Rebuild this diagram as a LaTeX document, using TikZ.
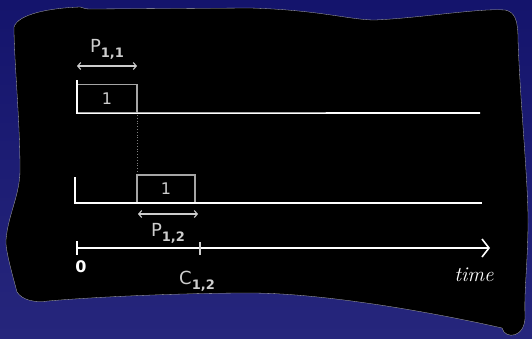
\documentclass[tikz,border=0pt]{standalone}
\usetikzlibrary{arrows.meta}
\usepackage{fontspec}
\setsansfont{DejaVu Sans}
\definecolor{bgtop}{RGB}{20,20,108}
\definecolor{bgbot}{RGB}{38,38,124}
\definecolor{boxgray}{RGB}{165,165,165}
\definecolor{labgray}{RGB}{205,205,205}
\newcommand{\mysub}[1]{\raisebox{-5pt}{\fontsize{13}{13}\selectfont\bfseries #1}}
\begin{document}
\begin{tikzpicture}[x=1pt,y=-1pt,
  whiteline/.style={draw=white,line width=1.6pt},
  jobbox/.style={draw=boxgray,line width=1.2pt,minimum width=#1,minimum height=28pt,inner sep=0pt,text=labgray,font=\sffamily\fontsize{16}{16}\selectfont},
  lab/.style={text=labgray,font=\sffamily\fontsize{18}{18}\selectfont,inner sep=0pt},
  span/.style={draw=labgray,line width=1.1pt,{Straight Barb[length=3pt,width=7pt]}-{Straight Barb[length=3pt,width=7pt]}}]
\shade[top color=bgtop,bottom color=bgbot] (0,0) rectangle (532,338);
\useasboundingbox (0,0) rectangle (532,338);
% black board
\fill[black,draw=gray!60,line width=0.3pt]
  (14,27) .. controls (18,14) and (50,8) .. (80,7)
  .. controls (84,8) and (85,9) .. (90,9)
  -- (250,8) .. controls (320,10) and (350,20) .. (375,20)
  .. controls (420,18) and (480,8) .. (505,10)
  .. controls (515,12) and (518,20) .. (518,40)
  .. controls (520,100) and (528,180) .. (528,220)
  .. controls (528,260) and (524,290) .. (525,315)
  .. controls (526,338) and (505,340) .. (502,328)
  .. controls (450,316) and (330,293) .. (250,293)
  .. controls (170,293) and (80,298) .. (48,301)
  .. controls (35,303) and (22,300) .. (17,292)
  .. controls (14,280) and (5,250) .. (6,240)
  .. controls (8,215) and (20,195) .. (20,170)
  .. controls (20,120) and (14,60) .. (14,27) -- cycle;
% row 1
\node[jobbox=60pt] (b1) at (107,98.5) {1};
\coordinate (r1t) at (77,80);
\coordinate (r1s) at (77,113);
\coordinate (r1e) at (480,113);
\draw[whiteline] (r1t) -- (r1s);
\draw[whiteline] (b1.south east) -- (r1e);
\draw[white,line width=1pt] (b1.south west) -- (b1.south east);
% P11
\coordinate (p11a) at (77,66);
\coordinate (p11b) at (137,66);
\draw[span] (p11a) -- (p11b);
\node[lab] (p11) at (107,49) {P\mysub{1,1}};
% dotted
\coordinate (d1) at (137,115);
\coordinate (d2) at (137,174);
\draw[gray,line width=0.8pt,dotted] (d1) -- (d2);
% row 2
\node[jobbox=58pt] (b2) at (166,189) {1};
\coordinate (r2t) at (75,177);
\coordinate (r2s) at (75,203);
\coordinate (r2e) at (482,203);
\draw[whiteline] (r2t) -- (r2s) -- (r2e);
% P12
\coordinate (p12a) at (138,214);
\coordinate (p12b) at (198,214);
\draw[span] (p12a) -- (p12b);
\node[lab] (p12) at (168,233) {P\mysub{1,2}};
% time axis
\coordinate (t0) at (77,248);
\coordinate (t1) at (490,248);
\draw[whiteline,-{Straight Barb[length=7pt,width=18pt,line width=1.6pt]}] (t0) -- (t1);
\draw[whiteline] (77,241) -- (77,255);
\draw[draw=labgray,line width=1.2pt] (200,242) -- (200,255);
\node[text=white,font=\sffamily\fontsize{16}{16}\selectfont\bfseries] (zero) at (81,267) {0};
\node[lab] (c12) at (197,281) {C\mysub{1,2}};
\node[text=white,font=\fontsize{21}{21}\selectfont\itshape] (time) at (474,275) {time};
\end{tikzpicture}
\end{document}
